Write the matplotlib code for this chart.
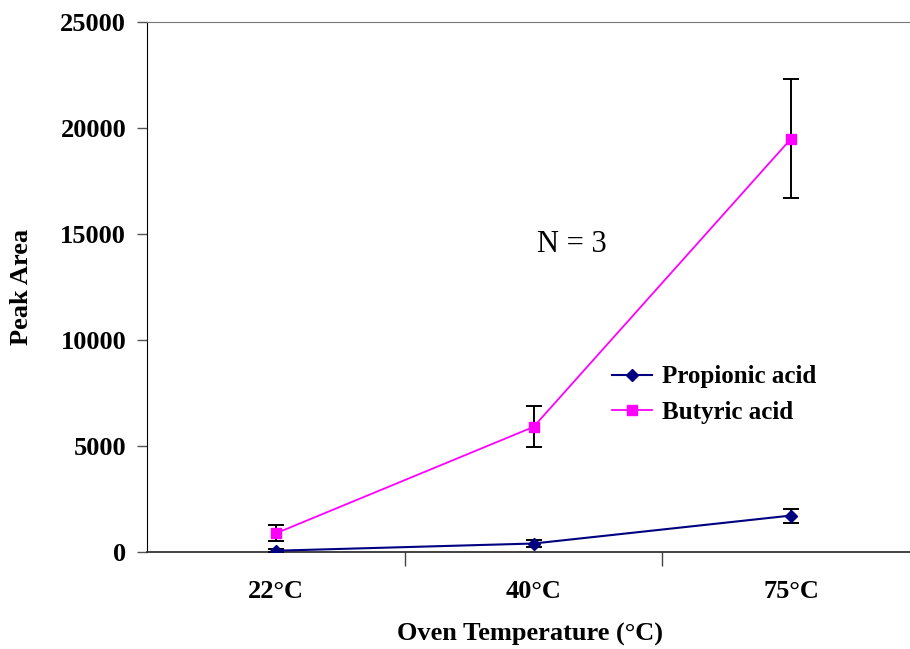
import numpy as np
import matplotlib
matplotlib.use("Agg")
import matplotlib.pyplot as plt
from matplotlib.lines import Line2D

plt.rcParams['font.family'] = ['Liberation Serif', 'DejaVu Serif']

categories = ["22°C", "40°C", "75°C"]
propionic = [60, 400, 1720]
propionic_err = [60, 150, 330]
butyric = [880, 5900, 19500]
butyric_err = [380, 970, 2800]

fig = plt.figure(figsize=(9.1, 6.49), dpi=100)
ax = fig.add_axes([147/910, 1 - 552/649, (920 - 147)/910, (552 - 22)/649])

x = np.arange(len(categories))
ax.errorbar(x, butyric, yerr=butyric_err, color="#FF00FF", marker="s", ms=7,
            lw=1.3, ecolor="black", elinewidth=1.4, capsize=6, capthick=1.4,
            zorder=3)
ax.errorbar(x, propionic, yerr=propionic_err, color="#000080", marker="D", ms=6,
            lw=1.5, ecolor="black", elinewidth=1.4, capsize=6, capthick=1.4,
            zorder=3)

ax.set_xlim(-0.5, 2.5)
ax.set_ylim(0, 25000)
ax.set_yticks(np.arange(0, 25001, 5000))
ax.tick_params(axis='y', direction='out', length=7, width=1, color="#555555",
               pad=8, labelsize=19)
for lab in ax.get_yticklabels():
    lab.set_fontweight('bold')

ax.set_xticks(x)
ax.set_xticklabels(categories, fontsize=19, fontweight='bold')
ax.tick_params(axis='x', which='major', length=0, pad=20)
ax.set_xticks([0.5, 1.5], minor=True)
ax.tick_params(axis='x', which='minor', direction='out', length=10, width=1, color="#444444")

ax.spines['left'].set_color('black')
ax.spines['bottom'].set_color('#333333')
ax.spines['bottom'].set_linewidth(1.3)
ax.spines['top'].set_color('#777777')
ax.spines['right'].set_visible(False)

ax.text(1.15, 14500, "N = 3", fontsize=22, ha='center', va='center')

handles = [Line2D([0], [0], color="#000080", marker="D", ms=6, lw=1.5),
           Line2D([0], [0], color="#FF00FF", marker="s", ms=7, lw=1.3)]
leg = ax.legend(handles, ["Propionic acid", "Butyric acid"], loc='upper left',
                bbox_to_anchor=(589/910, 1 - 343/649), bbox_transform=fig.transFigure,
                frameon=True, fancybox=False, edgecolor='none', facecolor='white',
                framealpha=1, prop={'size': 18, 'weight': 'bold'},
                handlelength=1.6, handletextpad=0.4, labelspacing=0.5)

fig.text(22/910, 1 - 287/649, "Peak Area", rotation=90, fontsize=19,
         fontweight='bold', ha='center', va='center')
fig.text(530/910, 1 - 634/649, "Oven Temperature (°C)", fontsize=19,
         fontweight='bold', ha='center', va='center')

fig.savefig("out.png", dpi=100)
